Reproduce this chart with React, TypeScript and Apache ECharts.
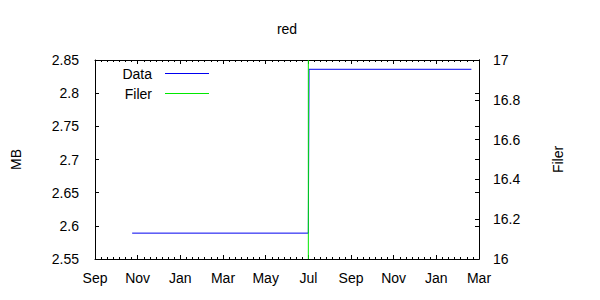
import React, { useEffect, useRef } from "react";
import * as echarts from "echarts";

// ---- data ----
const TITLE = "red";
const MONTH_NAMES = ["Jan", "Feb", "Mar", "Apr", "May", "Jun", "Jul", "Aug", "Sep", "Oct", "Nov", "Dec"];
const AXIS_START = "2008-09-01";
const AXIS_END = "2010-03-01";

const DATA_NAME = "Data";
const dataDates = ["2008-10-24", "2009-07-01", "2009-07-02", "2010-02-19"];
const dataValues = [2.589, 2.589, 2.836, 2.836];

const FILER_NAME = "Filer";
const filerDates = ["2009-07-01", "2009-07-01"];
const filerValues = [16, 17];

const LEFT_MIN = 2.55, LEFT_MAX = 2.85, LEFT_STEP = 0.05;
const RIGHT_MIN = 16, RIGHT_MAX = 17, RIGHT_STEP = 0.2;

const COLORS = { data: "#0000f0", filer: "#00e800" };
const FONT = "'Liberation Sans', Arial, sans-serif";

function parse(d: string) {
  const [y, m, day] = d.split("-").map(Number);
  return { y, m, day };
}
const START = parse(AXIS_START);
function monthIndex(d: string) {
  const { y, m, day } = parse(d);
  const dim = new Date(y, m, 0).getDate();
  return (y - START.y) * 12 + (m - START.m) + (day - 1) / dim;
}
const X_MAX = monthIndex(AXIS_END);

export default function App() {
  const ref = useRef<HTMLDivElement>(null);
  useEffect(() => {
    if (!ref.current) return;
    const chart = echarts.init(ref.current, null, { renderer: "svg" });
    const gl = 95, gr = 121, gt = 60, gb = 41;
    const labelStyle = { fontSize: 14, fontFamily: FONT, color: "#000" };
    const line = { show: true, lineStyle: { color: "#000", width: 1 } };
    const baseX = {
      type: "value" as const,
      min: 0,
      max: X_MAX,
      interval: 2,
      axisLine: { ...line, onZero: false },
      splitLine: { show: false },
      minorTick: { show: true, splitNumber: 7, length: 2, lineStyle: { color: "#000" } },
      axisTick: { show: true, inside: true, length: 4, lineStyle: { color: "#000" } },
    };
    const fmtMonth = (v: number) => MONTH_NAMES[(Math.round(v) + START.m - 1) % 12];
    const legendItems = [
      { name: DATA_NAME, color: COLORS.data, y: 73.5 },
      { name: FILER_NAME, color: COLORS.filer, y: 93.5 },
    ];
    const option: any = {
      animation: false,
      title: {
        text: TITLE,
        left: 287,
        top: 22,
        textAlign: "center",
        padding: 0,
        textStyle: { fontSize: 14, fontWeight: "normal", fontFamily: FONT, color: "#000", lineHeight: 14 },
      },
      grid: { left: gl, right: gr, top: gt, bottom: gb, containLabel: false },
      xAxis: [
        {
          ...baseX,
          position: "bottom",
          axisLabel: { ...labelStyle, margin: 12, formatter: fmtMonth },
        },
        {
          ...baseX,
          position: "top",
          axisLabel: { show: false },
        },
      ],
      yAxis: [
        {
          type: "value",
          position: "left",
          min: LEFT_MIN,
          max: LEFT_MAX,
          interval: LEFT_STEP,
          name: "MB",
          nameLocation: "middle",
          nameRotate: 90,
          nameGap: 72,
          nameTextStyle: { ...labelStyle },
          axisLine: { ...line, onZero: false },
          axisTick: { show: true, inside: true, length: 4, lineStyle: { color: "#000" } },
          axisLabel: { ...labelStyle, margin: 16 },
          splitLine: { show: false },
        },
        {
          type: "value",
          position: "right",
          min: RIGHT_MIN,
          max: RIGHT_MAX,
          interval: RIGHT_STEP,
          name: FILER_NAME,
          nameLocation: "middle",
          nameRotate: 90,
          nameGap: 72,
          nameTextStyle: { ...labelStyle },
          axisLine: { ...line, onZero: false },
          axisTick: { show: true, inside: true, length: 4, lineStyle: { color: "#000" } },
          axisLabel: { ...labelStyle, margin: 14 },
          splitLine: { show: false },
        },
        {
          type: "value",
          position: "right",
          min: LEFT_MIN,
          max: LEFT_MAX,
          interval: LEFT_STEP,
          axisLine: { ...line, onZero: false },
          axisTick: { show: true, inside: true, length: 4, lineStyle: { color: "#000" } },
          axisLabel: { show: false },
          splitLine: { show: false },
        },
      ],
      series: [
        {
          name: DATA_NAME,
          type: "line",
          xAxisIndex: 0,
          yAxisIndex: 0,
          showSymbol: false,
          symbol: "none",
          lineStyle: { color: COLORS.data, width: 1 },
          itemStyle: { color: COLORS.data },
          data: dataDates.map((d, i) => [monthIndex(d), dataValues[i]]),
          z: 2,
        },
        {
          name: FILER_NAME,
          type: "line",
          xAxisIndex: 0,
          yAxisIndex: 1,
          showSymbol: false,
          symbol: "none",
          lineStyle: { color: COLORS.filer, width: 1 },
          itemStyle: { color: COLORS.filer },
          data: filerDates.map((d, i) => [monthIndex(d), filerValues[i]]),
          z: 3,
        },
      ],
      graphic: legendItems.flatMap((it) => [
        {
          type: "text",
          x: 152,
          y: it.y,
          style: {
            text: it.name,
            textAlign: "right",
            textVerticalAlign: "middle",
            fontSize: 14,
            fontFamily: FONT,
            fill: "#000",
          },
        },
        {
          type: "line",
          shape: { x1: 165, y1: it.y, x2: 209, y2: it.y },
          style: { stroke: it.color, lineWidth: 1 },
        },
      ]),
    };
    chart.setOption(option);
    return () => chart.dispose();
  }, []);
  return (
    <div
      ref={ref}
      style={{ position: "fixed", left: 0, top: 0, width: 600, height: 300, background: "#fff" }}
    />
  );
}
